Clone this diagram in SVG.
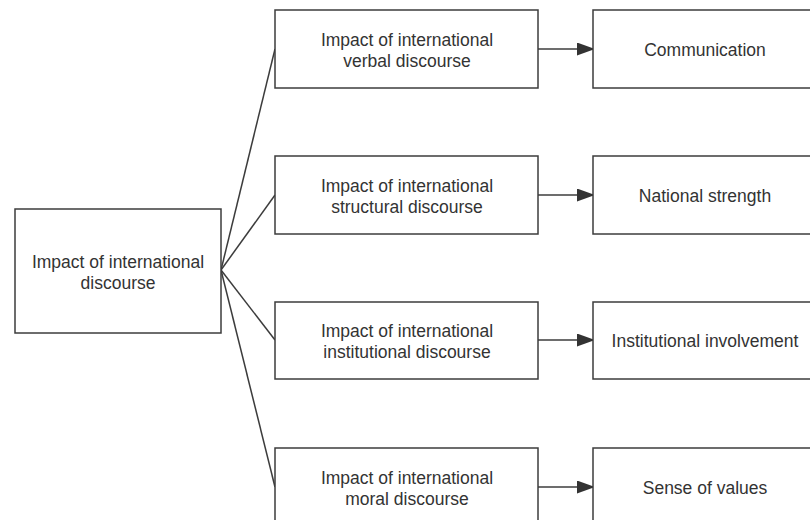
<svg xmlns="http://www.w3.org/2000/svg" width="810" height="520" viewBox="0 0 810 520">
<style>
.box{fill:#fff;stroke:#3c3c3c;stroke-width:1.5}
.t{font-family:"Liberation Sans",Arial,sans-serif;font-size:17.5px;fill:#333;text-anchor:middle}
.c{stroke:#3c3c3c;stroke-width:1.5;fill:none}
</style>
<defs>
<marker id="ah" markerUnits="userSpaceOnUse" markerWidth="20" markerHeight="14" refX="18" refY="6.5" orient="auto">
<path d="M0,0 L18,6.5 L0,13 Z" fill="#333"/>
</marker>
</defs>
<rect width="810" height="520" fill="#fff"/>
<g id="connectors">
<line class="c" x1="221" y1="270" x2="275" y2="49"/>
<line class="c" x1="221" y1="270" x2="275" y2="195"/>
<line class="c" x1="221" y1="270" x2="275" y2="340"/>
<line class="c" x1="221" y1="270" x2="275" y2="487"/>
<line class="c" x1="538" y1="49" x2="595" y2="49" marker-end="url(#ah)"/>
<line class="c" x1="538" y1="195" x2="595" y2="195" marker-end="url(#ah)"/>
<line class="c" x1="538" y1="340" x2="595" y2="340" marker-end="url(#ah)"/>
<line class="c" x1="538" y1="487" x2="595" y2="487" marker-end="url(#ah)"/>
</g>
<g id="root">
<rect class="box" x="15" y="209" width="206" height="124"/>
<text class="t" x="118" y="268">Impact of international</text>
<text class="t" x="118" y="289">discourse</text>
</g>
<g id="verbal">
<rect class="box" x="275" y="10" width="263" height="78"/>
<text class="t" x="407" y="46">Impact of international</text>
<text class="t" x="407" y="67">verbal discourse</text>
</g>
<g id="structural">
<rect class="box" x="275" y="156" width="263" height="78"/>
<text class="t" x="407" y="192">Impact of international</text>
<text class="t" x="407" y="213">structural discourse</text>
</g>
<g id="institutional">
<rect class="box" x="275" y="302" width="263" height="77"/>
<text class="t" x="407" y="337">Impact of international</text>
<text class="t" x="407" y="358">institutional discourse</text>
</g>
<g id="moral">
<rect class="box" x="275" y="448" width="263" height="78"/>
<text class="t" x="407" y="484">Impact of international</text>
<text class="t" x="407" y="505">moral discourse</text>
</g>
<g id="communication">
<rect class="box" x="593" y="10" width="224" height="78"/>
<text class="t" x="705" y="56">Communication</text>
</g>
<g id="national">
<rect class="box" x="593" y="156" width="224" height="78"/>
<text class="t" x="705" y="202">National strength</text>
</g>
<g id="involvement">
<rect class="box" x="593" y="302" width="224" height="77"/>
<text class="t" x="705" y="347">Institutional involvement</text>
</g>
<g id="values">
<rect class="box" x="593" y="448" width="224" height="78"/>
<text class="t" x="705" y="494">Sense of values</text>
</g>
</svg>
